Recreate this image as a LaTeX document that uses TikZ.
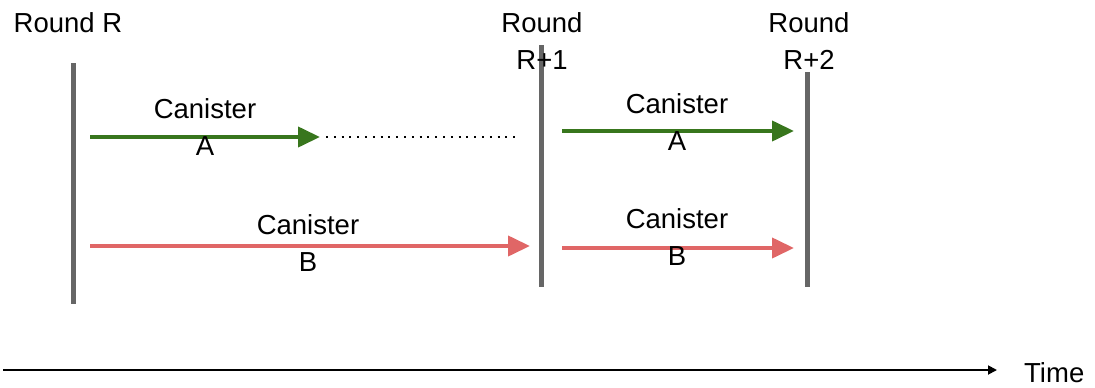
\documentclass[tikz,border=0pt]{standalone}
\usepackage{fontspec}
\setmainfont{Liberation Sans}
\usetikzlibrary{arrows.meta}
\definecolor{ggreen}{HTML}{38761D}
\definecolor{rred}{HTML}{E06666}
\definecolor{bargray}{HTML}{666666}
\begin{document}
\begin{tikzpicture}[x=1pt,y=-1pt,
  bar/.style={draw=bargray,line width=5pt},
  lbl/.style={font=\fontsize{27.5}{37}\selectfont,align=center,inner sep=0pt,text=black},
  garrow/.style={draw=ggreen,line width=4pt,-{Triangle[length=22pt,width=20pt]}},
  rarrow/.style={draw=rred,line width=4pt,-{Triangle[length=22pt,width=20pt]}},
  timearrow/.style={draw=black,line width=1.8pt,-{Triangle[length=9pt,width=9pt]}}]
\useasboundingbox (0,0) rectangle (1095,388);
% bars
\coordinate (r0t) at (73,63);  \coordinate (r0b) at (73,304);
\coordinate (r1t) at (541,45); \coordinate (r1b) at (541,287);
\coordinate (r2t) at (807,72); \coordinate (r2b) at (807,287);
\draw[bar] (r0t) -- (r0b);
\draw[bar] (r1t) -- (r1b);
\draw[bar] (r2t) -- (r2b);
% round labels
\node[lbl] (lr0) at (68,23) {Round R};
\node[lbl] (lr1) at (542,41) {Round\\R+1};
\node[lbl] (lr2) at (809,41) {Round\\R+2};
% arrows
\coordinate (a1s) at (90,137); \coordinate (a1e) at (320,137);
\coordinate (d1s) at (326,137); \coordinate (d1e) at (520,137);
\draw[garrow] (a1s) -- (a1e);
\draw[black,line width=2pt,dash pattern=on 2pt off 5.8pt] (d1s) -- (d1e);
\coordinate (b1s) at (90,246); \coordinate (b1e) at (530,246);
\draw[rarrow] (b1s) -- (b1e);
\coordinate (a2s) at (562,131); \coordinate (a2e) at (794,131);
\draw[garrow] (a2s) -- (a2e);
\coordinate (b2s) at (562,248); \coordinate (b2e) at (794,248);
\draw[rarrow] (b2s) -- (b2e);
% canister labels
\node[lbl] (ca1) at (205,127) {Canister\\A};
\node[lbl] (cb1) at (308,243) {Canister\\B};
\node[lbl] (ca2) at (677,122) {Canister\\A};
\node[lbl] (cb2) at (677,237) {Canister\\B};
% time axis
\coordinate (t0) at (3,370);
\node[lbl,anchor=west] (time) at (1024,373) {Time};
\draw[timearrow] (t0) -- (997,370);
\end{tikzpicture}
\end{document}
